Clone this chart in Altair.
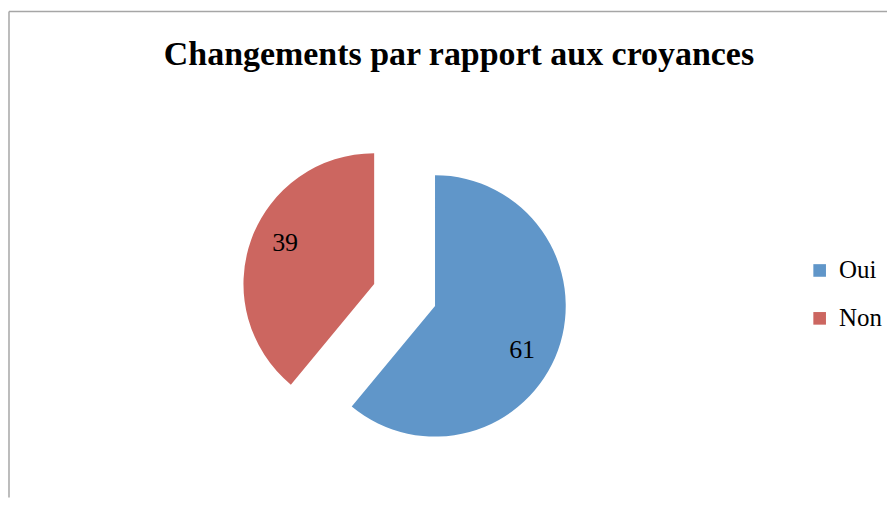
import math
import altair as alt
import pandas as pd

title_text = "Changements par rapport aux croyances"
categories = ["Oui", "Non"]
values = [61, 39]
colors = ["#6096C9", "#CC6660"]

df = pd.DataFrame({"cat": categories, "val": values, "order": list(range(len(categories)))})

FONT = "Liberation Serif"
W, H = 880, 487
R = 131
# exploded slice centres (plot coords) and label nudges
centres = {"Oui": (427, 295), "Non": (366, 273)}
nudges = {"Oui": (-4, 11), "Non": (2, -8)}

base = alt.Chart(df).transform_stack(
    stack="val", groupby=[], as_=["start", "end"], sort=[alt.SortField("order")]
).transform_calculate(mid="(datum.start + datum.end) / 2")

theta_scale = alt.Scale(domain=[0, 100], range=[0, 2 * math.pi])
color_enc = alt.Color(
    "cat:N",
    scale=alt.Scale(domain=categories, range=colors),
    sort=categories,
    legend=alt.Legend(
        title=None,
        orient="none",
        legendX=800,
        legendY=247,
        symbolType="square",
        symbolSize=160,
        symbolStrokeWidth=0,
        labelFont=FONT,
        labelFontSize=25,
        labelColor="black",
        labelOffset=7,
        labelLimit=200,
        rowPadding=22,
    ),
)

layers = []
for cat in categories:
    cx, cy = centres[cat]
    ndx, ndy = nudges[cat]
    part = base.transform_filter(alt.datum.cat == cat)
    arc = part.mark_arc(radius=R, stroke=None).encode(
        theta=alt.Theta("start:Q", scale=theta_scale),
        theta2="end:Q",
        color=color_enc,
        x=alt.value(cx),
        y=alt.value(cy),
    )
    txt = part.mark_text(radius=97, font=FONT, fontSize=26, color="black",
                         align="center", baseline="middle", dx=ndx, dy=ndy).encode(
        theta=alt.Theta("mid:Q", scale=theta_scale),
        text=alt.Text("val:Q"),
        x=alt.value(cx),
        y=alt.value(cy),
    )
    layers += [arc, txt]

title_df = pd.DataFrame({"t": [title_text]})
title = alt.Chart(title_df).mark_text(
    font=FONT, fontSize=34, fontWeight="bold", color="black", align="center", baseline="middle"
).encode(text="t:N", x=alt.value(451), y=alt.value(44))

border_top = alt.Chart(title_df).mark_rule(color="#a6a6a6", strokeWidth=1.5).encode(
    x=alt.value(0), x2=alt.value(W), y=alt.value(0)
)
border_left = alt.Chart(title_df).mark_rule(color="#a6a6a6", strokeWidth=1.5).encode(
    x=alt.value(0), y=alt.value(0), y2=alt.value(H)
)

chart = alt.layer(border_top, border_left, *layers, title).properties(
    width=W, height=H,
    padding={"left": 0, "top": 2, "right": 0, "bottom": 0},
).configure(
    background="white",
    style={"cell": {"stroke": "white", "strokeOpacity": 0, "strokeWidth": 0}},
).configure_view(stroke="white", strokeWidth=0, strokeOpacity=0)

chart.save("out.html", embed_options={"renderer": "svg", "actions": False})
